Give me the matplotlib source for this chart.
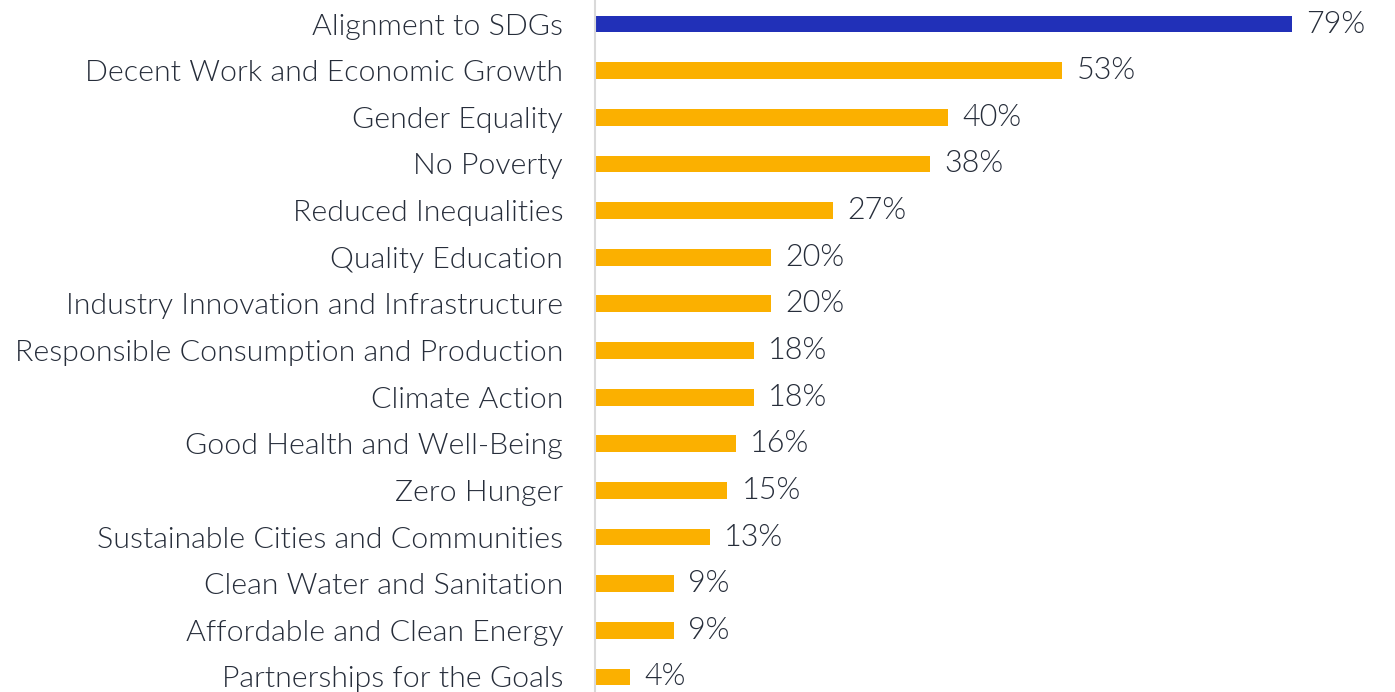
import matplotlib
matplotlib.use("Agg")
import matplotlib.pyplot as plt

categories = [
    "Alignment to SDGs",
    "Decent Work and Economic Growth",
    "Gender Equality",
    "No Poverty",
    "Reduced Inequalities",
    "Quality Education",
    "Industry Innovation and Infrastructure",
    "Responsible Consumption and Production",
    "Climate Action",
    "Good Health and Well-Being",
    "Zero Hunger",
    "Sustainable Cities and Communities",
    "Clean Water and Sanitation",
    "Affordable and Clean Energy",
    "Partnerships for the Goals",
]
values = [79, 53, 40, 38, 27, 20, 20, 18, 18, 16, 15, 13, 9, 9, 4]

plt.rcParams['font.family'] = ['Lato', 'DejaVu Sans']
plt.rcParams['font.weight'] = 300
text_color = "#262d3a"
colors = ["#2130b8"] + ["#fbb000"] * (len(values) - 1)

fig = plt.figure(figsize=(13.95, 6.92), dpi=100)
# axes placed so that row centres land where the reference has them
ax = fig.add_axes([595 / 1395, 1 - 700.3 / 692, 800 / 1395, 699.6 / 692])

y = list(range(len(categories)))
ax.barh(y, values, height=0.36, color=colors)
ax.set_ylim(len(categories) - 0.5, -0.5)
ax.set_xlim(0, 800 / 8.82)

for yi, v in zip(y, values):
    ax.text(v + 1.6, yi, f"{v}%", va="center", ha="left",
            fontsize=22, color=text_color)

ax.set_yticks(y)
ax.set_yticklabels(categories, fontsize=21.8, color=text_color)
ax.tick_params(axis="y", length=0, pad=23)
ax.set_xticks([])

for s in ["top", "right", "bottom"]:
    ax.spines[s].set_visible(False)
ax.spines["left"].set_color("#d9d9d9")
ax.spines["left"].set_linewidth(1.5)

fig.savefig("out.png", dpi=100)
